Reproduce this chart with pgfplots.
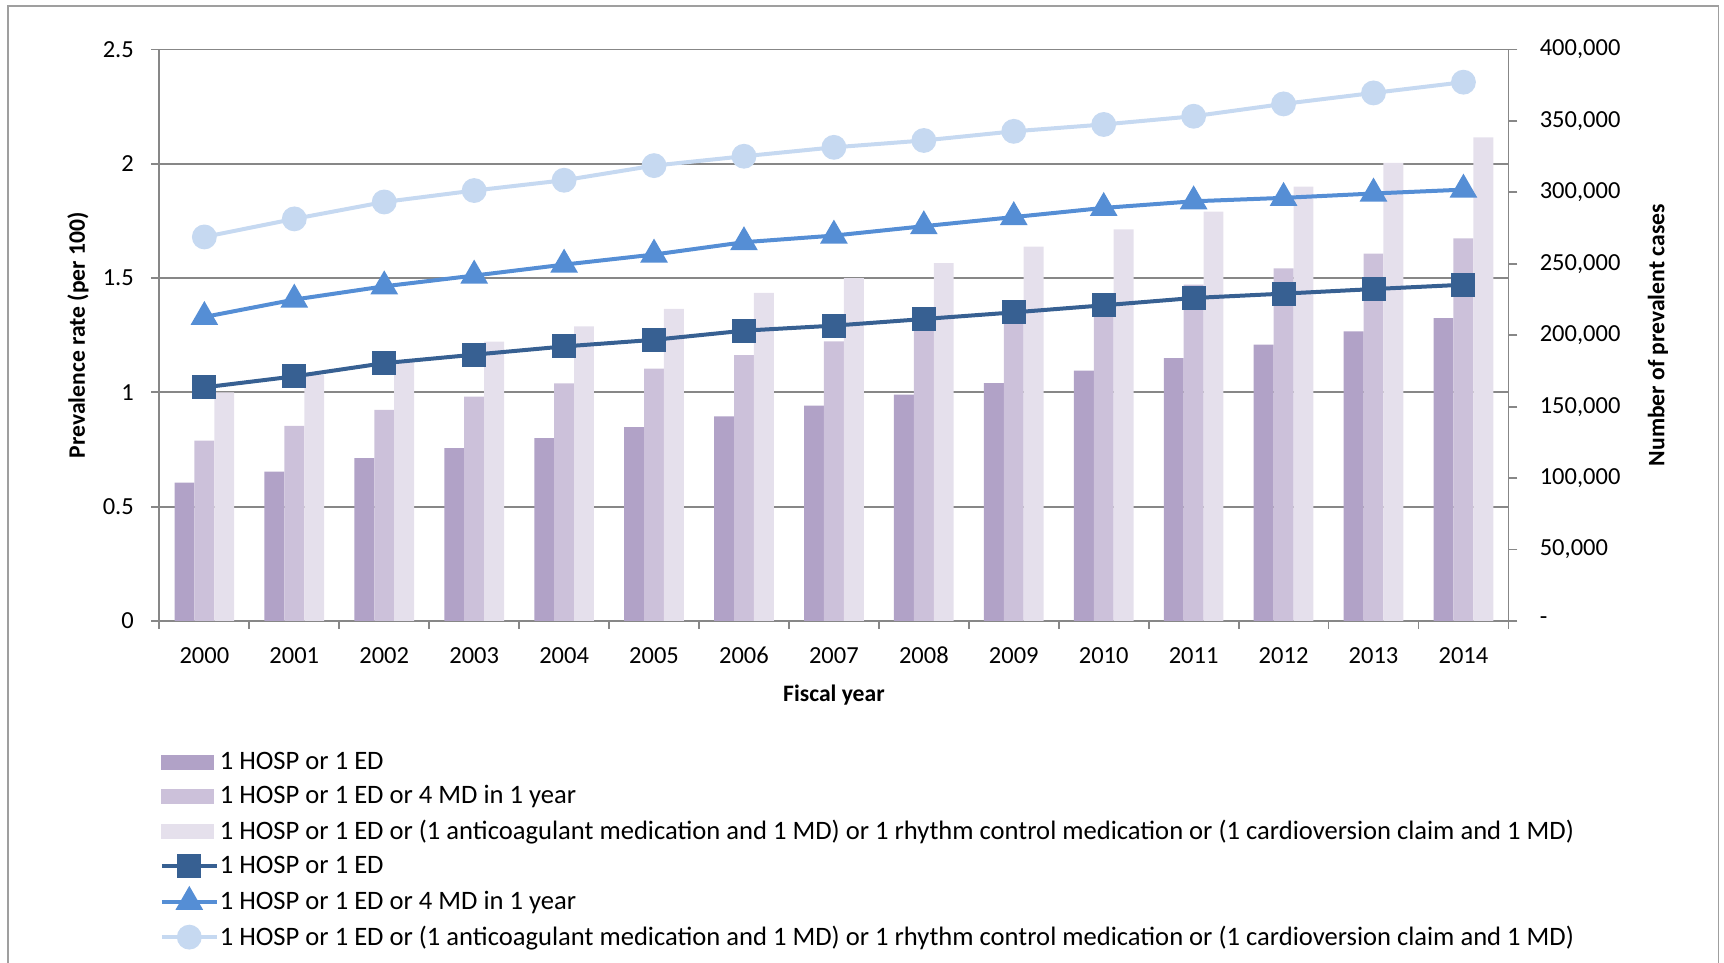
\documentclass[border=0pt]{standalone}
\usepackage{fontspec}
\setmainfont{Carlito}
\usepackage{pgfplots}
\pgfplotsset{compat=1.18}
\definecolor{barA}{HTML}{B1A2C7}
\definecolor{barB}{HTML}{CCC1DA}
\definecolor{barC}{HTML}{E5E0EC}
\definecolor{lineA}{HTML}{376092}
\definecolor{lineB}{HTML}{558ED5}
\definecolor{lineC}{HTML}{C6D9F1}
\definecolor{gridgray}{HTML}{878787}
\pgfplotsset{
  mylineleg/.style={legend image code/.code={\draw[mark repeat=2,mark phase=2,##1] plot coordinates {(0pt,0pt)(13.75pt,0pt)(27.5pt,0pt)};}},
  common/.style={at={(79.7pt,171pt)}, anchor=south west, scale only axis, width=674.5pt, height=285.75pt, xmin=-0.5, xmax=14.5},
}
\newcommand{\tickfont}{\fontsize{12.25}{14}\selectfont}
\newcommand{\titlefont}{\bfseries\fontsize{11.8}{14}\selectfont}
\begin{document}
\begin{tikzpicture}
\useasboundingbox (0pt,0pt) rectangle (862pt,481.5pt);
\draw[gridgray!80, line width=0.8pt] (3.85pt,-2pt) -- (3.85pt,478.5pt) -- (859.2pt,478.5pt) -- (859.2pt,-2pt);
% base axis: grid, left axis, x axis
\begin{axis}[common,
  ymin=0, ymax=2.5,
  axis x line*=bottom, axis y line*=left,
  axis line style={-, draw=gridgray, line width=0.9pt},
  xtick={-0.5,0.5,1.5,2.5,3.5,4.5,5.5,6.5,7.5,8.5,9.5,10.5,11.5,12.5,13.5,14.5},
  x tick label as interval,
  xticklabels={2000,2001,2002,2003,2004,2005,2006,2007,2008,2009,2010,2011,2012,2013,2014},
  ytick={0,0.5,1,1.5,2,2.5},
  ymajorgrids, major grid style={draw=gridgray, line width=0.9pt},
  tick align=outside, major tick length=4pt,
  tick style={draw=gridgray, line width=0.9pt},
  tick label style={font=\tickfont, inner sep=0pt},
  xticklabel style={text height=8pt, text depth=0pt},
  xticklabel shift=9.2pt, yticklabel shift=8.6pt,
  /pgf/number format/assume math mode=true,
  xlabel={Fiscal year},
  xlabel style={font=\titlefont, at={(axis description cs:0.5,-0.1295)}, anchor=center},
  ylabel={Prevalence rate (per 100)},
  ylabel style={font=\titlefont, at={(axis description cs:-0.0603,0.5)}, anchor=center},
]
\end{axis}
% bars on right axis
\begin{axis}[common,
  ymin=0, ymax=400000, clip=false,
  axis x line=none, axis y line*=right,
  axis line style={-, draw=gridgray, line width=0.9pt},
  scaled y ticks=false,
  ytick={0,50000,100000,150000,200000,250000,300000,350000,400000},
  yticklabels={-,{50,000},{100,000},{150,000},{200,000},{250,000},{300,000},{350,000},{400,000}},
  tick align=outside, major tick length=4.5pt,
  tick style={draw=gridgray, line width=0.9pt},
  tick label style={font=\tickfont, inner sep=0pt},
  yticklabel shift=11pt,
  ybar=0pt, bar width=9.95pt,
]
\addplot[fill=barA, draw=none] coordinates {(0,96800) (1,104480) (2,113920) (3,120960) (4,128000) (5,135680) (6,143200) (7,150720) (8,158400) (9,166560) (10,175200) (11,184000) (12,193440) (13,202720) (14,212000)};
\addplot[fill=barB, draw=none] coordinates {(0,126240) (1,136640) (2,147840) (3,156960) (4,166240) (5,176640) (6,186080) (7,195680) (8,205280) (9,214880) (10,224800) (11,235360) (12,246880) (13,257120) (14,267840)};
\addplot[fill=barC, draw=none] coordinates {(0,160000) (1,172320) (2,182400) (3,195520) (4,206240) (5,218400) (6,229600) (7,240000) (8,250560) (9,262080) (10,274080) (11,286560) (12,304000) (13,320640) (14,338400)};
\node[rotate=90, font=\titlefont, anchor=center] at (axis description cs:1.1109,0.5) {Number of prevalent cases};
\end{axis}
% lines on left axis + legend
\begin{axis}[common,
  ymin=0, ymax=2.5, hide axis, clip=false,
  legend style={at={(axis description cs:0,-0.2285)}, anchor=north west, draw=none, fill=none,
    inner sep=0pt, row sep=6.7pt, font=\fontsize{13.3}{16}\selectfont,
    nodes={inner ysep=0pt, inner xsep=0.5pt}},
  legend cell align=left,
]
\addlegendimage{legend image code/.code={\fill[barA] (0pt,-3.5pt) rectangle (26pt,3.5pt);}}
\addlegendentry{1 HOSP or 1 ED}
\addlegendimage{legend image code/.code={\fill[barB] (0pt,-3.5pt) rectangle (26pt,3.5pt);}}
\addlegendentry{1 HOSP or 1 ED or 4 MD in 1 year}
\addlegendimage{legend image code/.code={\fill[barC] (0pt,-3.5pt) rectangle (26pt,3.5pt);}}
\addlegendentry{1 HOSP or 1 ED or (1 anticoagulant medication and 1 MD) or 1 rhythm control medication or (1 cardioversion claim and 1 MD)}
\addplot[mylineleg, color=lineA, line width=2pt, mark=square*, mark size=5pt, mark options={solid}] coordinates {(0,1.022) (1,1.070) (2,1.128) (3,1.165) (4,1.201) (5,1.230) (6,1.270) (7,1.292) (8,1.321) (9,1.350) (10,1.381) (11,1.413) (12,1.432) (13,1.452) (14,1.471)};
\addlegendentry{1 HOSP or 1 ED}
\addplot[mylineleg, color=lineB, line width=2pt, mark=triangle*, mark size=6pt, mark options={solid}] coordinates {(0,1.330) (1,1.406) (2,1.464) (3,1.511) (4,1.559) (5,1.603) (6,1.657) (7,1.686) (8,1.727) (9,1.767) (10,1.807) (11,1.836) (12,1.851) (13,1.870) (14,1.887)};
\addlegendentry{1 HOSP or 1 ED or 4 MD in 1 year}
\addplot[mylineleg, color=lineC, line width=2pt, mark=*, mark size=5.2pt, mark options={solid}] coordinates {(0,1.680) (1,1.759) (2,1.833) (3,1.883) (4,1.928) (5,1.992) (6,2.033) (7,2.072) (8,2.102) (9,2.142) (10,2.172) (11,2.208) (12,2.262) (13,2.310) (14,2.357)};
\addlegendentry{1 HOSP or 1 ED or (1 anticoagulant medication and 1 MD) or 1 rhythm control medication or (1 cardioversion claim and 1 MD)}
\end{axis}
\end{tikzpicture}
\end{document}
